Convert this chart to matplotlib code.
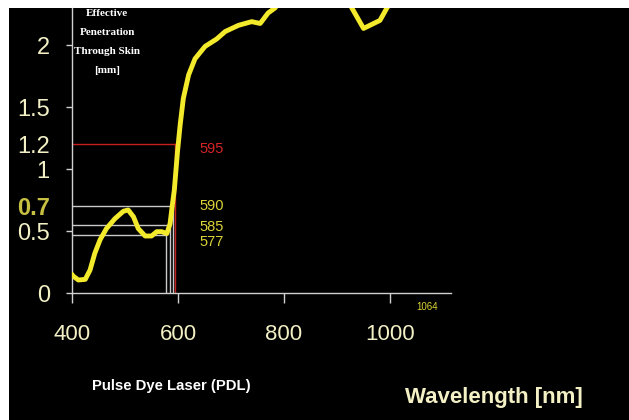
import matplotlib
matplotlib.use("Agg")
import matplotlib.pyplot as plt
from matplotlib import font_manager

# curve (values above 2.3 run off the top)
wavelength = [400, 402, 412, 425, 434, 443, 453, 465, 481, 497, 506, 516, 525,
              538, 550, 560, 569, 579, 585, 589, 593, 599, 604, 610, 620, 632,
              651, 673, 689, 714, 739, 755, 770, 783, 800, 860, 910, 928, 950,
              981, 994, 1010]
penetration = [0.15, 0.137, 0.105, 0.11, 0.185, 0.32, 0.43, 0.52, 0.60, 0.66,
               0.67, 0.615, 0.52, 0.46, 0.46, 0.495, 0.495, 0.48, 0.56, 0.70,
               0.83, 1.14, 1.355, 1.57, 1.76, 1.89, 1.99, 2.05, 2.11, 2.16,
               2.19, 2.175, 2.26, 2.30, 2.40, 2.50, 2.45, 2.30, 2.135, 2.20,
               2.30, 2.40]

# laser lines: wavelength, depth, label y, colour
laser_nm = [577, 585, 590, 595]
laser_depth = [0.47, 0.55, 0.70, 1.2]
laser_label_y = [0.41, 0.53, 0.70, 1.16]
laser_colors = ["#c8c8c8", "#c8c8c8", "#c8c8c8", "#c81e1e"]
laser_text_colors = ["#dcd438", "#dcd438", "#dcd438", "#d42424"]

yticks = [0, 0.5, 0.7, 1, 1.2, 1.5, 2]
ytick_labels = ["0", "0.5", "0.7", "1", "1.2", "1.5", "2"]
xticks = [400, 600, 800, 1000]

ylabel_lines = ["Effective", "Penetration", "Through Skin", "[mm]"]

names = {f.name for f in font_manager.fontManager.ttflist}
narrow = "Liberation Sans Narrow" if "Liberation Sans Narrow" in names else "Liberation Sans"

cream = "#f2f0c4"
W, H = 629, 420

fig = plt.figure(figsize=(W / 100, H / 100), dpi=100)
fig.patch.set_facecolor("white")

# black panel behind everything (white strip left and top)
bg = fig.add_axes([9 / W, 0, 620 / W, 412 / H], zorder=-5)
bg.set_facecolor("black")
bg.set_xticks([])
bg.set_yticks([])
for s in bg.spines.values():
    s.set_visible(False)

ax = fig.add_axes([72 / W, 127 / H, 379 / W, 285 / H])
ax.set_facecolor("none")
ax.set_xlim(400, 1115)
ax.set_ylim(0, 2.30)

for nm, d, c in zip(laser_nm, laser_depth, laser_colors):
    ax.plot([400, nm], [d, d], color=c, lw=1.0, zorder=2)
    ax.plot([nm, nm], [0, d], color=c, lw=1.0, zorder=2)

ax.plot(wavelength, penetration, color="#f4ea2c", lw=3.5, solid_capstyle="round", zorder=3)

for nm, ly, c in zip(laser_nm, laser_label_y, laser_text_colors):
    ax.text(640, ly, str(nm), color=c, fontsize=10.5, family=narrow, va="center", ha="left")

ax.text(1070, -0.11, "1064", color="#dcd438", fontsize=7, family=narrow, ha="center", va="center")

for s in ["top", "right"]:
    ax.spines[s].set_visible(False)
for s in ["left", "bottom"]:
    ax.spines[s].set_color("#d0d0d0")
    ax.spines[s].set_linewidth(1.0)

ax.set_yticks(yticks)
ax.set_yticklabels(ytick_labels)
ax.tick_params(axis="y", colors="#d0d0d0", length=4, width=1, pad=12, labelsize=17, labelcolor=cream)
for t, lab in zip(ax.yaxis.get_major_ticks(), ytick_labels):
    t.label1.set_family(narrow)
    if lab in ("0.7", "1.2"):
        t.tick1line.set_visible(False)
    if lab == "0.7":
        t.label1.set_color("#c8c040")
        t.label1.set_fontweight("bold")

ax.set_xticks(xticks)
ax.set_xticklabels([str(v) for v in xticks])
ax.tick_params(axis="x", colors="#d0d0d0", length=7, width=1, pad=15, labelsize=16, labelcolor=cream)
for lab in ax.get_xticklabels():
    lab.set_family(narrow)

for i, line in enumerate(ylabel_lines):
    fig.text(107 / W, 1 - (13 + 19.3 * i) / H, line, color="white", fontsize=8,
             family="Liberation Serif", fontweight="bold", ha="center", va="center")

fig.text(171 / W, 1 - 386 / H, "Pulse Dye Laser (PDL)", color="white", fontsize=10.7,
         family=narrow, fontweight="bold", ha="center", va="center")
fig.text(494 / W, 1 - 398 / H, "Wavelength [nm]", color=cream, fontsize=16,
         family=narrow, fontweight="bold", ha="center", va="center")

fig.savefig("out.png", dpi=100, facecolor=fig.get_facecolor())
